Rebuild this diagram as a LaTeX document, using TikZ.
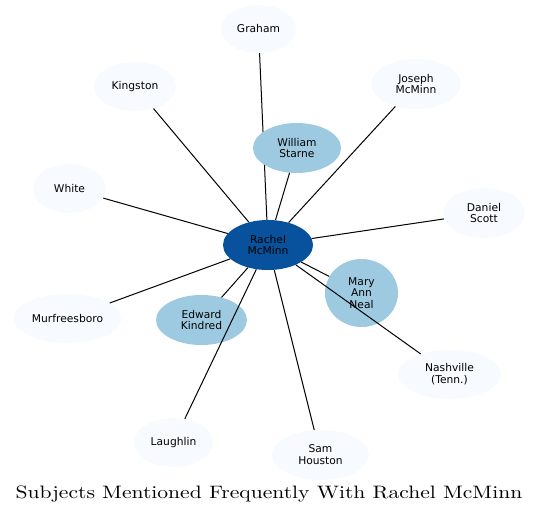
\documentclass[tikz,border=0pt]{standalone}
\usepackage{fontspec}
\newfontfamily\nodefont{DejaVu Sans}
\newfontfamily\titlefont[FakeStretch=1.2]{lmroman10-regular.otf}
\usetikzlibrary{shapes.geometric,backgrounds}
\definecolor{blight}{HTML}{F7FBFF}
\definecolor{bmid}{HTML}{9ECAE1}
\definecolor{bdark}{HTML}{08519C}
\tikzset{
  ent/.style={ellipse, inner sep=0pt, align=center, font=\nodefont\fontsize{10.7}{11.8}\selectfont, text=black},
  lvl0/.style={ent, fill=blight},
  lvl1/.style={ent, fill=bmid},
  lvl2/.style={ent, fill=bdark},
  link/.style={draw=black, line width=1pt},
}
\begin{document}
\begin{tikzpicture}[x=1pt,y=-1pt]
\useasboundingbox (0,0) rectangle (539,516);
\node[lvl2, minimum width=90, minimum height=50] (rachel) at (268,245) {Rachel\\McMinn};
\node[lvl0, minimum width=75, minimum height=48] (graham) at (258.5,29) {Graham};
\node[lvl0, minimum width=82, minimum height=49] (kingston) at (135,86.5) {Kingston};
\node[lvl0, minimum width=90, minimum height=50] (joseph) at (416,84) {Joseph\\McMinn};
\node[lvl1, minimum width=88, minimum height=50] (william) at (297,148) {William\\Starne};
\node[lvl0, minimum width=73, minimum height=49] (white) at (69.5,188.5) {White};
\node[lvl0, minimum width=82, minimum height=50] (daniel) at (484,213) {Daniel\\Scott};
\node[lvl1, minimum width=73, minimum height=68] (mary) at (361.5,293) {Mary\\Ann\\Neal};
\node[lvl0, minimum width=108, minimum height=49] (murf) at (67.5,318.5) {Murfreesboro};
\node[lvl1, minimum width=91, minimum height=50] (edward) at (201.5,320) {Edward\\Kindred};
\node[lvl0, minimum width=103, minimum height=49] (nash) at (449.5,374.5) {Nashville\\(Tenn.)};
\node[lvl0, minimum width=79, minimum height=49] (laughlin) at (173.5,442.5) {Laughlin};
\node[lvl0, minimum width=97, minimum height=50] (sam) at (320.5,455) {Sam\\Houston};
\begin{pgfonlayer}{background}
\draw[link] (rachel) -- (graham);
\end{pgfonlayer}
\draw[link] (rachel) -- (kingston);
\draw[link] (rachel) -- (joseph);
\draw[link] (rachel) -- (william);
\draw[link] (rachel) -- (white);
\draw[link] (rachel) -- (daniel);
\draw[link] (rachel) -- (mary);
\draw[link] (rachel) -- (murf);
\draw[link] (rachel) -- (edward);
\draw[link] (rachel) -- (nash);
\draw[link] (rachel) -- (laughlin);
\draw[link] (rachel) -- (sam);
\node[font=\titlefont\fontsize{18}{21}\selectfont, anchor=base, inner sep=0pt] (title) at (269,498) {Subjects Mentioned Frequently With Rachel McMinn};
\end{tikzpicture}
\end{document}
